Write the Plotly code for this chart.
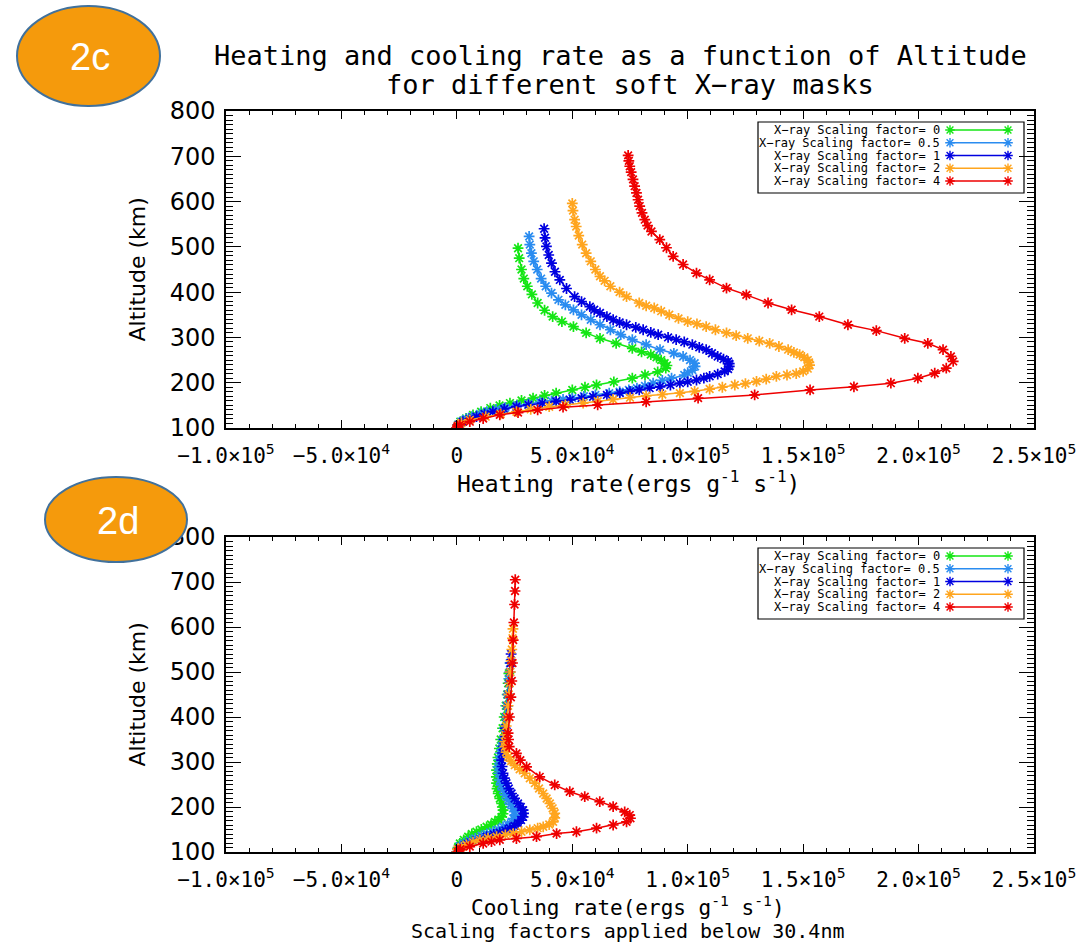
import plotly.graph_objects as go

W, H = 1084, 945

# ---------------- data ----------------
FACTORS = ["0", "0.5", "1", "2", "4"]
COLORS = ["#14E614", "#2A8CF0", "#0000E0", "#FFA51E", "#EE0000"]

X_TICKVALS = [-1.0e5, -5.0e4, 0, 5.0e4, 1.0e5, 1.5e5, 2.0e5, 2.5e5]
X_TICKTEXT = ["−1.0×10<sup>5</sup>", "−5.0×10<sup>4</sup>", "0", "5.0×10<sup>4</sup>",
              "1.0×10<sup>5</sup>", "1.5×10<sup>5</sup>", "2.0×10<sup>5</sup>", "2.5×10<sup>5</sup>"]
Y_TICKVALS = [100, 200, 300, 400, 500, 600, 700, 800]

# Heating rate (units of 1e3 ergs g^-1 s^-1) vs altitude (km)
HEAT_ALT_F0 = [100, 107, 114, 121, 129, 136, 144, 150, 155, 161, 166, 172, 177, 184, 190, 195, 202, 210, 217, 224,
               232, 238, 243, 250, 256, 262, 268, 276, 287, 298, 310, 324, 335, 346, 360, 376, 395, 413, 430, 450,
               475, 497]
HEAT_VAL_F0 = [0, 0.5, 1.5, 4, 7, 10.5, 14.5, 18.5, 23, 28, 33, 38, 43, 50, 55.5, 60.5, 68, 76, 81.5, 87,
               90.5, 91, 90, 88.5, 86.5, 84, 80, 76, 69, 62, 56, 50.5, 45.5, 41.5, 38, 35, 32.5, 30.5, 29, 28,
               27, 26.5]

HEAT_ALT_F05 = [100, 107, 114, 120, 125, 131, 136, 141, 145, 150, 153, 157, 160, 163, 166, 170, 173, 177, 180, 184,
                188, 193, 199, 205, 210, 217, 222, 228, 236, 243, 250, 258, 265, 273, 284, 295, 306, 317, 328, 339,
                350, 361, 372, 383, 398, 413, 430, 450, 468, 486, 505, 523]
HEAT_VAL_F05 = [0, 0.6, 2, 4, 6.5, 10, 13, 17, 21, 26, 31, 36, 41, 46, 50, 55, 60, 66, 70.5, 74.5,
                78, 81.5, 85, 89, 93, 98.5, 100, 102, 103.2, 103, 101, 98, 94, 88, 82, 76, 71, 66.5, 62, 58,
                54, 50.5, 47, 44, 41, 38.5, 36.5, 34.8, 33.3, 32.3, 31.6, 31.3]

HEAT_ALT_F1 = [100, 107, 114, 120, 125, 131, 136, 142, 147, 151, 155, 159, 162, 166, 169, 173, 177, 181, 184, 188,
               191, 195, 199, 202, 206, 210, 214, 219, 225, 230, 236, 242, 247, 252, 258, 265, 273, 278, 284, 290,
               295, 300, 306, 311, 317, 322, 328, 333, 339, 346, 354, 361, 368, 379, 390, 408, 427, 445, 464, 482,
               501, 520, 540]
HEAT_VAL_F1 = [0, 0.8, 2.6, 5.5, 8.5, 12, 15.6, 20.5, 25.8, 31, 37, 43, 49, 54, 59, 65, 70.6, 75, 79, 83.5,
               88, 92.5, 96.6, 100, 103.8, 107, 109.5, 113, 116, 117.5, 118, 118, 117.5, 115.5, 113, 110.5, 108, 105, 102, 98.5,
               95, 91.5, 87.2, 84, 80.7, 77.5, 73.5, 70.5, 67.7, 65, 62, 59.5, 57.6, 54, 51, 47.5, 44.6, 42.5, 41, 39.8,
               38.8, 38.2, 37.8]

HEAT_ALT_F2 = [100, 105, 111, 118, 125, 131, 136, 141, 147, 151, 155, 159, 163, 167, 171, 174, 177, 181, 186, 190,
               195, 198, 203, 208, 214, 217, 220, 225, 231, 239, 245, 250, 256, 262, 267, 273, 280, 287, 292, 298,
               304, 310, 317, 324, 330, 335, 342, 350, 358, 365, 370, 376, 390, 400, 413, 425, 435, 450, 468, 486,
               505, 525, 545, 560, 580, 596]
HEAT_VAL_F2 = [0, 0.5, 2, 5.6, 12.5, 19, 25.8, 32, 40, 47, 54.7, 61, 67.7, 75, 82, 89, 96.6, 103, 109.5, 115,
               120.4, 125, 129.8, 134, 138.4, 143, 147, 150, 152, 152.8, 152.5, 152, 150.5, 148.5, 146, 143.5, 139.5, 135.5, 131, 126,
               121, 116.8, 112, 108, 104, 100, 96, 92, 88.5, 85.5, 82, 79, 73.5, 70.5, 66.5, 64, 62, 60, 58, 56,
               54.3, 52.8, 51.7, 51, 50.3, 50]

HEAT_ALT_F4 = [100, 104, 107, 114, 121, 129, 134, 140, 146, 151, 158, 166, 173, 184, 191, 199, 210, 221, 232, 247,
               258, 273, 287, 298, 315, 328, 346, 361, 376, 394, 409, 427, 442, 461, 479, 498, 516, 534, 547, 560,
               575, 590, 604, 619, 634, 649, 665, 678, 690, 702]
HEAT_VAL_F4 = [0, 0.3, 1.3, 5.6, 11.4, 18.6, 26.5, 35, 46, 61, 82, 104.5, 129, 153, 172, 188, 199.7, 207, 212, 215,
               214, 210.6, 204, 194, 181.7, 169.4, 157, 145, 134.8, 125.4, 116.8, 109.5, 103.8, 98, 93.7, 90.8, 87.9, 84.3, 82.6, 81.4,
               80.2, 79.2, 78.5, 77.8, 77, 76.3, 75.5, 74.9, 74.5, 74.2]

# Cooling rate (units of 1e3 ergs g^-1 s^-1) vs altitude (km)
COOL_ALT_F0 = [100, 110, 119, 127, 134, 140, 145, 150, 156, 161, 167, 172, 178, 185, 193, 200, 208, 219, 230, 241,
               253, 267, 282, 296, 310, 330, 350, 375, 400, 425, 450, 475, 497]
COOL_VAL_F0 = [0, 0.5, 1.3, 3, 4.9, 6.5, 8.5, 10.6, 12.9, 14.8, 16.5, 18, 19.4, 20, 20, 19.7, 19.4, 18.6, 17.9, 17.4,
               17.2, 17.1, 17.2, 17.5, 17.8, 18.4, 19, 19.8, 20.5, 21.2, 21.8, 22.2, 22.5]

COOL_ALT_F05 = [100, 107, 113, 119, 125, 130, 136, 140, 145, 150, 156, 161, 167, 174, 182, 190, 197, 206, 216, 227,
                238, 249, 260, 275, 289, 305, 320, 335, 350, 375, 400, 425, 450, 485, 520]
COOL_VAL_F05 = [0, 0.5, 1.3, 3, 5.6, 8, 10.7, 13, 15.7, 18, 20, 22, 23.7, 24.6, 25.1, 24.9, 24.4, 23.3, 22.2, 21,
                20, 19.2, 18.6, 18.2, 17.9, 18.3, 18.8, 19.4, 20, 20.6, 21.2, 21.6, 22, 22.5, 23]

COOL_ALT_F1 = [100, 106, 112, 118, 123, 128, 134, 139, 143, 148, 153, 158, 164, 171, 178, 186, 193, 200, 208, 219,
               230, 241, 253, 264, 275, 290, 304, 320, 335, 350, 375, 400, 425, 450, 475, 500, 520, 540]
COOL_VAL_F1 = [0, 0.6, 2, 4.5, 7, 10, 12.9, 16, 18.6, 21, 23, 25, 26.5, 27.8, 28.7, 28.9, 28.7, 27.7, 26.5, 25,
               23.7, 22.5, 21.5, 20.6, 20, 19.6, 19.4, 19.8, 20.2, 20.5, 21, 21.6, 22, 22.3, 22.7, 23, 23.3, 23.5]

COOL_ALT_F2 = [100, 106, 111, 116, 122, 127, 131, 134, 138, 141, 145, 149, 153, 156, 161, 167, 176, 186, 197, 208,
               219, 230, 241, 253, 264, 275, 284, 293, 302, 311, 322, 334, 345, 360, 380, 400, 425, 450, 475, 500,
               525, 550, 575, 596]
COOL_VAL_F2 = [0, 0.3, 2, 4.2, 7, 10, 13.5, 17.2, 21, 24.4, 28, 31.6, 35, 37.4, 40, 41.7, 42.4, 42.4, 41.5, 40.3,
               38.9, 37.4, 35.6, 33.8, 31.6, 29.4, 27.2, 25.1, 23.5, 22.2, 21.3, 20.8, 20.8, 21, 21.4, 21.8, 22.2, 22.5, 22.9, 23.2,
               23.5, 23.8, 24.1, 24.3]

COOL_ALT_F4 = [100, 103, 106, 112, 119, 123, 127, 130, 134, 141, 145, 153, 160, 167, 175, 182, 189, 201, 212, 223,
               234, 249, 267, 289, 304, 319, 334, 350, 364, 400, 444, 480, 520, 571, 610, 650, 680, 705]
COOL_VAL_F4 = [0.5, 1, 1.5, 5.6, 11.4, 15, 18.6, 25.8, 34.5, 43.2, 51.8, 60.5, 67.7, 73.5, 75.2, 74.9, 72.7, 67.7, 61.9, 55.4,
               48.9, 42.4, 35.9, 30.2, 27.5, 25.8, 22.7, 22.4, 22.2, 22.8, 23.4, 23.8, 24.1, 24.4, 24.7, 25, 25.2, 25.3]

HEATING = [(HEAT_ALT_F0, HEAT_VAL_F0), (HEAT_ALT_F05, HEAT_VAL_F05), (HEAT_ALT_F1, HEAT_VAL_F1),
           (HEAT_ALT_F2, HEAT_VAL_F2), (HEAT_ALT_F4, HEAT_VAL_F4)]
COOLING = [(COOL_ALT_F0, COOL_VAL_F0), (COOL_ALT_F05, COOL_VAL_F05), (COOL_ALT_F1, COOL_VAL_F1),
           (COOL_ALT_F2, COOL_VAL_F2), (COOL_ALT_F4, COOL_VAL_F4)]
UNIT = 1e3

# ---------------- layout helpers ----------------
def fx(x):
    return x / W

def fy(y):
    return 1 - y / H

FONT = "DejaVu Sans"
MONO = "DejaVu Sans Mono"
PLOT_L, PLOT_R = 226, 1034
TOP_T, TOP_B = 111, 428
BOT_T, BOT_B = 537, 852

fig = go.Figure()

def add_series(data, xa, ya):
    for (alt, val), col, fac in zip(data, COLORS, FACTORS):
        fig.add_trace(go.Scatter(
            x=[v * UNIT for v in val], y=alt, xaxis=xa, yaxis=ya,
            mode="lines+markers", showlegend=False,
            name="X−ray Scaling factor= " + fac,
            line=dict(color=col, width=1.5),
            marker=dict(symbol="asterisk-open", size=9, line=dict(color=col, width=1.7)),
        ))

add_series(HEATING, "x", "y")
add_series(COOLING, "x2", "y2")

# custom IDL-style legends (drawn on a pixel-space overlay axis)
LEG_ROW0, LEG_STEP = 130, 12.75
annotations = []
shapes = []
for top in (TOP_T, BOT_T):
    off = top - TOP_T
    shapes.append(dict(type="rect", xref="paper", yref="paper",
                       x0=fx(758), x1=fx(1024), y0=fy(122 + off), y1=fy(193 + off),
                       line=dict(color="black", width=1.2), fillcolor="rgba(0,0,0,0)", layer="below"))
    for i, (col, fac) in enumerate(zip(COLORS, FACTORS)):
        yy = LEG_ROW0 + off + i * LEG_STEP
        annotations.append(dict(text="X−ray Scaling factor= " + fac, x=fx(942), y=fy(yy),
                                xref="paper", yref="paper", xanchor="right", yanchor="middle",
                                showarrow=False, font=dict(family=MONO, size=12, color="black")))
        fig.add_trace(go.Scatter(x=[950, 1008], y=[yy, yy], xaxis="x3", yaxis="y3",
                                 mode="lines+markers", showlegend=False, hoverinfo="skip",
                                 line=dict(color=col, width=1.3),
                                 marker=dict(symbol="asterisk-open", size=8, line=dict(color=col, width=1.4))))

# titles / labels
def text(t, x, y, size, family=FONT, angle=0):
    annotations.append(dict(text=t, x=fx(x), y=fy(y), xref="paper", yref="paper",
                            xanchor="center", yanchor="middle", showarrow=False,
                            font=dict(family=family, size=size, color="black"),
                            textangle=angle))

text("Heating and cooling rate as a function of Altitude", 620, 56, 27, MONO)
text("for different soft X−ray masks", 630, 84, 27, MONO)
text("Heating rate(ergs g<sup>-1</sup> s<sup>-1</sup>)", 628, 482, 23, MONO)
text("Cooling rate(ergs g<sup>-1</sup> s<sup>-1</sup>)", 628, 906, 21, MONO)
text("Scaling factors applied below 30.4nm", 627, 931, 20, MONO)
text("Altitude (km)", 137, (TOP_T + TOP_B) / 2, 22, angle=-90)
text("Altitude (km)", 137, (BOT_T + BOT_B) / 2, 22, angle=-90)

# orange badges
for (x0, x1, y0, y1, lab) in [(17, 160, 6, 106, "2c"), (45, 187, 477, 562, "2d")]:
    shapes.append(dict(type="circle", xref="paper", yref="paper",
                       x0=fx(x0), x1=fx(x1), y0=fy(y1), y1=fy(y0),
                       fillcolor="#F59A0C", line=dict(color="#41719C", width=2), layer="above"))
    annotations.append(dict(text=lab, x=fx((x0 + x1) / 2 + 2), y=fy((y0 + y1) / 2 + 1),
                            xref="paper", yref="paper", xanchor="center", yanchor="middle",
                            showarrow=False, font=dict(family="Liberation Sans", size=38, color="white")))

def xaxis_cfg(anchor):
    return dict(domain=[fx(PLOT_L), fx(PLOT_R)], range=[-1.0e5, 2.5e5], anchor=anchor,
                tickmode="array", tickvals=X_TICKVALS, ticktext=X_TICKTEXT, tickangle=0,
                ticks="inside", ticklen=8, tickwidth=1, tickcolor="black",
                showline=True, linecolor="black", linewidth=1.5, mirror="ticks",
                showgrid=False, zeroline=False, automargin=False, ticklabelstandoff=8,
                minor=dict(dtick=1e4, tick0=0, ticks="inside", ticklen=4, tickcolor="black", showgrid=False),
                tickfont=dict(family=MONO, size=21, color="black"))

def yaxis_cfg(anchor, t, b):
    return dict(domain=[fy(b), fy(t)], range=[100, 800], anchor=anchor,
                tickmode="array", tickvals=Y_TICKVALS,
                ticks="inside", ticklen=15, tickwidth=1, tickcolor="black",
                showline=True, linecolor="black", linewidth=1.5, mirror="ticks",
                showgrid=False, zeroline=False, ticklabelstandoff=4, automargin=False,
                minor=dict(dtick=10, tick0=0, ticks="inside", ticklen=7, tickcolor="black", showgrid=False),
                tickfont=dict(family=FONT, size=24, color="black"))

fig.update_layout(
    width=W, height=H, autosize=False,
    margin=dict(l=0, r=0, t=0, b=0, pad=0),
    paper_bgcolor="white", plot_bgcolor="rgba(0,0,0,0)",
    showlegend=False,
    xaxis=xaxis_cfg("y"), yaxis=yaxis_cfg("x", TOP_T, TOP_B),
    xaxis2=xaxis_cfg("y2"), yaxis2=yaxis_cfg("x2", BOT_T, BOT_B),
    xaxis3=dict(domain=[0, 1], range=[0, W], visible=False, anchor="y3", fixedrange=True, automargin=False),
    yaxis3=dict(domain=[0, 1], range=[H, 0], visible=False, anchor="x3", fixedrange=True, automargin=False),
    shapes=shapes, annotations=annotations,
)

fig.write_html("out.html")
